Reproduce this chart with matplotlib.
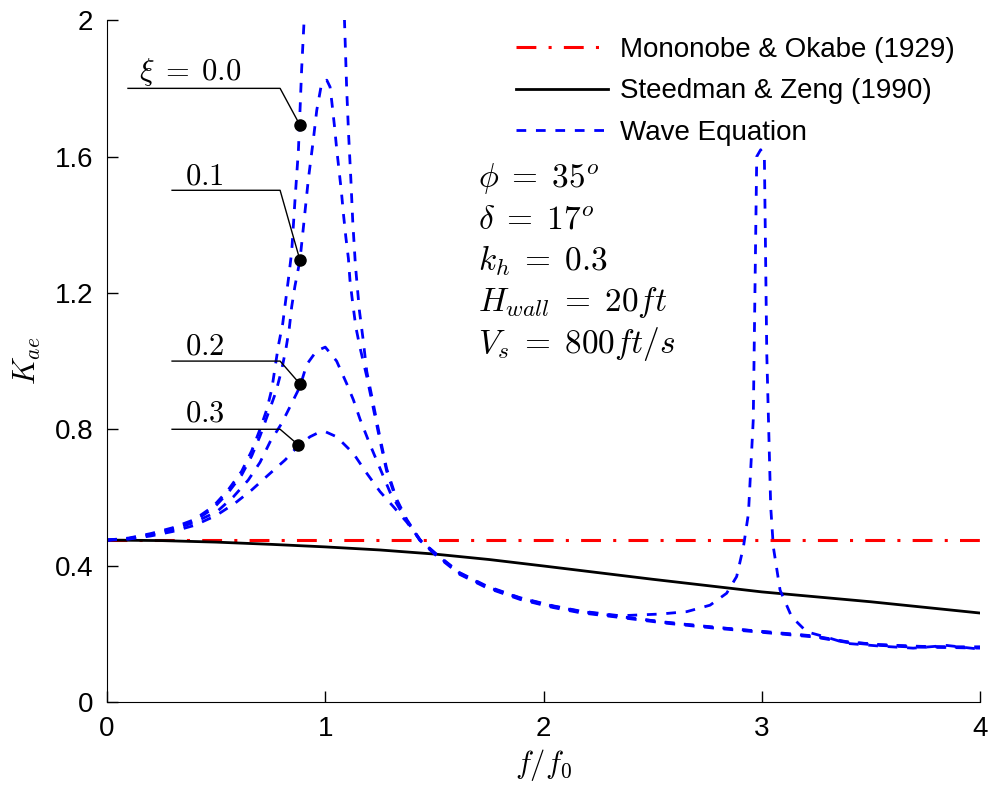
import matplotlib
matplotlib.use("Agg")
import matplotlib.pyplot as plt
import numpy as np

plt.rcParams['mathtext.fontset'] = 'cm'
plt.rcParams['font.family'] = ['Liberation Sans', 'DejaVu Sans']

# Mononobe & Okabe (constant)
mo_x = [0.0, 4.0]
mo_y = [0.475, 0.475]

# Steedman & Zeng
sz_x = [0.0, 0.25, 0.5, 0.75, 1.0, 1.25, 1.5, 1.75, 2.0, 2.5, 3.0, 3.5, 4.0]
sz_y = [0.475, 0.4735, 0.469, 0.4625, 0.455, 0.446, 0.434, 0.418, 0.399, 0.36, 0.323, 0.294, 0.261]

# Wave equation, damping 0.0
w0_x = [0.0, 0.1, 0.2, 0.3, 0.4, 0.487, 0.556, 0.617, 0.663, 0.701, 0.732, 0.755,
        0.785, 0.805, 0.831, 0.846, 0.861, 0.877, 0.892, 0.903, 0.95, 1.05, 1.088,
        1.098, 1.107, 1.117, 1.126, 1.138, 1.156, 1.174, 1.19, 1.22, 1.251, 1.281,
        1.327, 1.373, 1.434, 1.511, 1.617, 1.74, 1.892, 2.045, 2.167, 2.35, 2.534,
        2.656, 2.763, 2.839, 2.885, 2.916, 2.939, 2.961, 2.977, 2.995, 3.012, 3.023,
        3.041, 3.053, 3.084, 3.137, 3.206, 3.313, 3.389, 3.542, 3.694, 3.847, 4.0]
w0_y = [0.475, 0.481, 0.494, 0.511, 0.535, 0.574, 0.623, 0.677, 0.737, 0.80, 0.858, 0.918,
        1.045, 1.11, 1.24, 1.32, 1.47, 1.62, 1.86, 2.0, 3.0, 3.0, 2.0,
        1.80, 1.663, 1.536, 1.408, 1.282, 1.15, 1.06, 0.97, 0.875, 0.775, 0.685,
        0.595, 0.536, 0.476, 0.433, 0.379, 0.340, 0.306, 0.282, 0.267, 0.253, 0.258,
        0.265, 0.284, 0.319, 0.368, 0.455, 0.553, 0.827, 1.60, 1.62, 1.60, 1.022,
        0.573, 0.455, 0.328, 0.25, 0.206, 0.187, 0.172, 0.164, 0.158, 0.166, 0.155]

# damping 0.1
w1_x = [0.0, 0.1, 0.2, 0.3, 0.4, 0.487, 0.556, 0.617, 0.663, 0.701, 0.732, 0.774,
        0.80, 0.82, 0.835, 0.846, 0.861, 0.884, 0.90, 0.922, 0.945, 0.961, 0.983,
        1.007, 1.022, 1.03, 1.042, 1.052, 1.063, 1.074, 1.083, 1.094, 1.106, 1.113,
        1.124, 1.14, 1.159, 1.19, 1.22, 1.251, 1.281, 1.327, 1.373, 1.434, 1.511,
        1.617, 1.74, 1.892, 2.045, 2.167, 2.35, 2.564, 2.778, 3.007, 3.236, 3.389,
        3.542, 3.694, 3.847, 4.0]
w1_y = [0.475, 0.480, 0.492, 0.508, 0.531, 0.568, 0.615, 0.666, 0.722, 0.78, 0.835, 0.91,
        0.974, 1.037, 1.096, 1.159, 1.22, 1.296, 1.394, 1.531, 1.648, 1.736, 1.814,
        1.824, 1.804, 1.76, 1.69, 1.624, 1.56, 1.496, 1.433, 1.365, 1.301, 1.238,
        1.179, 1.10, 1.04, 0.955, 0.862, 0.766, 0.678, 0.590, 0.533, 0.474, 0.430,
        0.376, 0.337, 0.303, 0.279, 0.264, 0.250, 0.234, 0.219, 0.207, 0.194, 0.177,
        0.168, 0.163, 0.162, 0.160]

# damping 0.2
w2_x = [0.0, 0.1, 0.2, 0.3, 0.4, 0.503, 0.579, 0.647, 0.701, 0.747, 0.80, 0.846,
        0.884, 0.915, 0.96, 1.0, 1.052, 1.098, 1.129, 1.159, 1.205, 1.251, 1.297,
        1.342, 1.373, 1.434, 1.511, 1.617, 1.74, 1.892, 2.045, 2.167, 2.35, 2.564,
        2.778, 3.007, 3.236, 3.389, 3.542, 3.694, 3.847, 4.0]
w2_y = [0.475, 0.479, 0.490, 0.505, 0.527, 0.558, 0.602, 0.651, 0.703, 0.763, 0.817, 0.876,
        0.925, 0.99, 1.03, 1.041, 1.0, 0.934, 0.886, 0.83, 0.755, 0.685, 0.615,
        0.565, 0.532, 0.474, 0.428, 0.374, 0.335, 0.301, 0.277, 0.262, 0.248, 0.231,
        0.217, 0.204, 0.191, 0.175, 0.166, 0.161, 0.160, 0.158]

# damping 0.3
w3_x = [0.0, 0.1, 0.2, 0.3, 0.4, 0.5, 0.586, 0.663, 0.739, 0.816, 0.877, 0.93, 0.968,
        1.0, 1.052, 1.129, 1.19, 1.251, 1.312, 1.373, 1.434, 1.511, 1.617, 1.74,
        1.892, 2.045, 2.167, 2.35, 2.564, 2.778, 3.007, 3.236, 3.389, 3.542, 3.694,
        3.847, 4.0]
w3_y = [0.475, 0.478, 0.487, 0.500, 0.518, 0.547, 0.583, 0.622, 0.666, 0.71, 0.752, 0.778, 0.79,
        0.793, 0.778, 0.729, 0.671, 0.617, 0.573, 0.528, 0.476, 0.431, 0.378, 0.338,
        0.305, 0.281, 0.266, 0.251, 0.233, 0.220, 0.206, 0.193, 0.176, 0.168, 0.164,
        0.161, 0.162]

damp_labels = [r'$\xi\;=\;0.0$', r'$0.1$', r'$0.2$', r'$0.3$']
label_pos = [(0.147, 1.824), (0.357, 1.519), (0.357, 1.02), (0.357, 0.822)]
leader_y = [1.80, 1.501, 1.0, 0.80]
leader_x0 = [0.096, 0.298, 0.298, 0.298]
dot_pts = [(0.884, 1.692), (0.884, 1.296), (0.884, 0.933), (0.877, 0.754)]

params = [r'$\phi\;=\;35^o$', r'$\delta\;=\;17^o$', r'$k_h\;=\;0.3$',
          r'$H_{wall}\;=\;20ft$', r'$V_s\;=\;800ft/s$']

fig = plt.figure(figsize=(9.92, 7.91), dpi=100)
ax = fig.add_axes([0.1079, 0.1125, 0.880, 0.862])

ax.plot(mo_x, mo_y, color='red', lw=2.2, dashes=(6.5, 4, 1, 4),
        label='Mononobe & Okabe (1929)')
ax.plot(sz_x, sz_y, color='black', lw=2.0, label='Steedman & Zeng (1990)')
first = True
for wx, wy in [(w0_x, w0_y), (w1_x, w1_y), (w2_x, w2_y), (w3_x, w3_y)]:
    ax.plot(wx, wy, color='blue', lw=2.0, dashes=(3.5, 3.5),
            label='Wave Equation' if first else None)
    first = False

for lab, (tx, ty), ly, lx0, (dx, dy) in zip(damp_labels, label_pos, leader_y, leader_x0, dot_pts):
    ax.text(tx, ty, lab, fontsize=22, ha='left', va='baseline')
    ax.plot([lx0, 0.793, dx], [ly, ly, dy], color='black', lw=1.0)
    ax.plot(dx, dy, 'o', color='black', ms=8)

for i, p in enumerate(params):
    ax.text(1.70, 1.510 - i * 0.1215, p, fontsize=24, ha='left', va='baseline')

ax.set_xlim(0, 4)
ax.set_ylim(0, 2)
ax.set_xticks([0, 1, 2, 3, 4])
ax.set_yticks([0, 0.4, 0.8, 1.2, 1.6, 2])
ax.set_yticklabels(['0', '0.4', '0.8', '1.2', '1.6', '2'])
ax.tick_params(direction='in', length=8, width=1, labelsize=20, pad=10)
ax.spines['top'].set_visible(False)
ax.spines['right'].set_visible(False)
ax.set_xlabel(r'$f/f_0$', fontsize=22, labelpad=4)
ax.set_ylabel(r'$K_{ae}$', fontsize=22, labelpad=8)

ax.legend(loc='upper right', bbox_to_anchor=(1.0, 1.012), frameon=False, fontsize=20,
          handlelength=3.3, labelspacing=0.55, handletextpad=0.45)

fig.savefig('out.png', dpi=100)
